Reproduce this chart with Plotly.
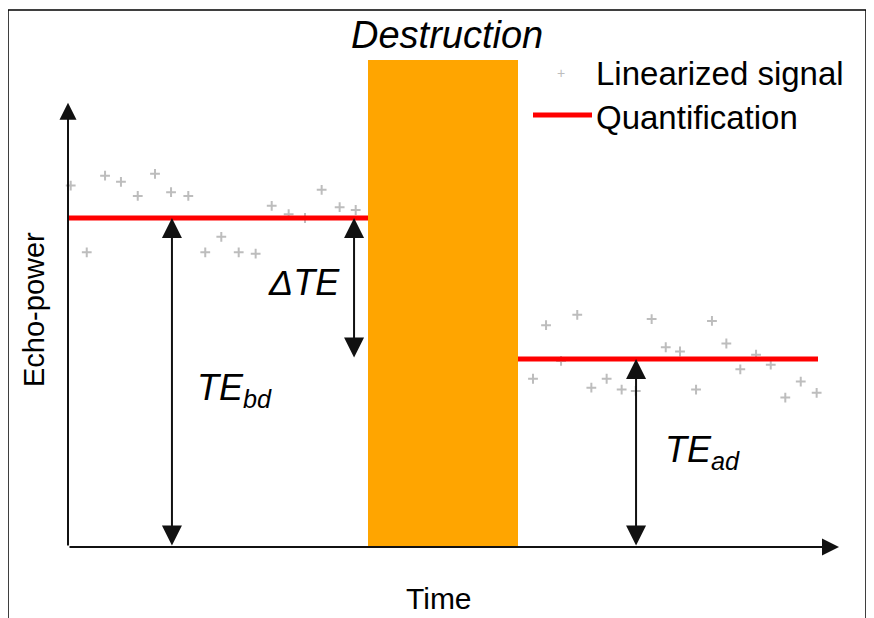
import plotly.graph_objects as go

# signal samples before destruction (time, echo-power)
t_before = [0.18, 1.25, 2.47, 3.53, 4.65, 5.8, 6.87, 8.02, 9.15, 10.22,
            11.38, 12.51, 13.58, 14.71, 15.8, 16.91, 18.11, 19.18]
p_before = [7.69, 6.27, 7.90, 7.77, 7.47, 7.94, 7.55, 7.47, 6.27, 6.60,
            6.27, 6.24, 7.26, 7.08, 7.0, 7.60, 7.23, 7.17]

# signal samples after destruction
t_after = [31.0, 31.87, 32.87, 33.95, 34.89, 35.91, 36.91, 37.85, 38.91, 39.85,
           40.8, 41.87, 42.93, 43.89, 44.82, 45.87, 46.85, 47.82, 48.85, 49.91]
p_after = [3.58, 4.72, 3.96, 4.94, 3.39, 3.58, 3.35, 3.32, 4.85, 4.25,
           4.16, 3.35, 4.81, 4.33, 3.78, 4.09, 3.88, 3.18, 3.52, 3.28]

# quantification levels and periods
te_bd = 7.0
te_ad = 4.0
t_start, t_destr0, t_destr1, t_end = 0, 20, 30, 50
destr_top = 10.36
x_axis_end = 51.4
y_axis_end = 9.45

# arrow positions (time)
t_arrow_bd = 6.93
t_arrow_delta = 19.07
t_arrow_ad = 37.87

# the page body adds an 8px margin, so the figure is 8px smaller and shifted
OFF = 8
W, H = 874 - OFF, 618 - OFF
FONT = "Liberation Sans, Arial, sans-serif"


def px(x):
    return (x - OFF) / W


def py(y):
    return 1 - (y - OFF) / H


fig = go.Figure()

fig.add_trace(go.Scatter(
    x=t_before + t_after, y=p_before + p_after, mode="markers",
    marker=dict(symbol="cross-thin", size=7, line=dict(width=2, color="#bdbdbd")),
    showlegend=False))

fig.add_trace(go.Scatter(
    x=[t_start, t_destr0, None, t_destr1, t_end],
    y=[te_bd, te_bd, None, te_ad, te_ad],
    mode="lines", line=dict(color="#ff0000", width=5), showlegend=False))

shapes = [
    dict(type="rect", xref="x", yref="y", x0=t_destr0, x1=t_destr1, y0=0, y1=destr_top,
         fillcolor="#ffa500", line=dict(width=0), layer="above"),
    dict(type="rect", xref="paper", yref="paper", x0=px(8), x1=px(866), y0=-0.1, y1=py(10),
         line=dict(color="#000", width=1.5)),
    dict(type="line", xref="paper", yref="paper", x0=px(533), x1=px(592), y0=py(115), y1=py(115),
         line=dict(color="#ff0000", width=5)),
]

ann = []


def arrow(x0, y0, x1, y1, both=False, size=2.0):
    a = dict(x=x1, y=y1, ax=x0, ay=y0, xref="x", yref="y", axref="x", ayref="y",
             text="", showarrow=True, arrowhead=2, arrowsize=size, arrowwidth=2,
             arrowcolor="#111", standoff=0, startstandoff=0)
    if both:
        a.update(arrowside="end+start", startarrowhead=2, startarrowsize=size)
    ann.append(a)


# axes
arrow(0, 0, 0, y_axis_end, size=1.7)
arrow(0, 0, x_axis_end, 0, size=1.7)
# measurement arrows
arrow(t_arrow_bd, 0, t_arrow_bd, te_bd, both=True)
arrow(t_arrow_delta, te_ad, t_arrow_delta, te_bd, both=True)
arrow(t_arrow_ad, 0, t_arrow_ad, te_ad, both=True)


def label(text, x, y, size, xanchor="left", yanchor="middle", angle=0, color="#000"):
    ann.append(dict(text=text, x=px(x), y=py(y), xref="paper", yref="paper",
                    showarrow=False, xanchor=xanchor, yanchor=yanchor, textangle=angle,
                    font=dict(family=FONT, size=size, color=color)))


label("<i>Destruction</i>", 447, 35, 38, xanchor="center")
label("<i>ΔTE</i>", 266, 283, 36)
label("<i>TE<sub>bd</sub></i>", 195, 390, 36)
label("<i>TE<sub>ad</sub></i>", 663, 452, 36)
label("Linearized signal", 594, 74, 33)
label("Quantification", 594, 117, 33)
label("+", 561, 73, 14, xanchor="center", color="#bdbdbd")
label("Time", 439, 598, 30, xanchor="center")
label("Echo-power", 34, 310, 29, xanchor="center", angle=-90)

fig.update_layout(
    width=W, height=H, margin=dict(l=0, r=0, t=0, b=0),
    paper_bgcolor="white", plot_bgcolor="white",
    xaxis=dict(range=[(OFF - 68) / 15, (874 - 68) / 15], visible=False),
    yaxis=dict(range=[(547 - 618) / 47, (547 - OFF) / 47], visible=False),
    shapes=shapes, annotations=ann, showlegend=False,
)

fig.write_html("out.html")
